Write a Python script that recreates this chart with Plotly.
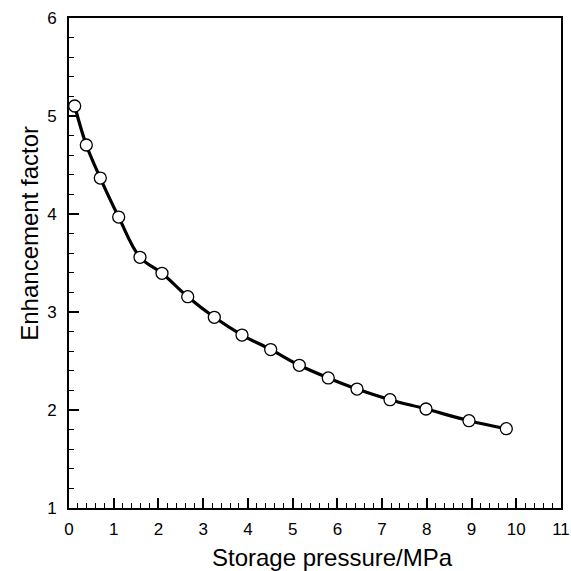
import plotly.graph_objects as go

pressure = [0.127, 0.387, 0.70, 1.111, 1.587, 2.079, 2.654, 3.249, 3.868, 4.509,
            5.149, 5.797, 6.439, 7.177, 7.982, 8.943, 9.777]
enhancement = [5.102, 4.704, 4.367, 3.969, 3.558, 3.395, 3.156, 2.946, 2.765, 2.617,
               2.456, 2.327, 2.214, 2.105, 2.010, 1.891, 1.809]

x_title = "Storage pressure/MPa"
y_title = "Enhancement factor"

fig = go.Figure()
fig.add_trace(go.Scatter(
    x=pressure, y=enhancement, mode="lines+markers",
    line=dict(color="black", width=3.2, shape="spline", smoothing=1),
    marker=dict(symbol="circle", size=12, color="white",
                line=dict(color="black", width=1.3)),
    showlegend=False, cliponaxis=False,
))

font = "Liberation Sans, Arial, sans-serif"
axis_common = dict(
    showgrid=False, zeroline=False, showline=True, linecolor="black", linewidth=2,
    mirror=True, ticks="inside", ticklen=10, tickwidth=1.5, tickcolor="black",
    tickfont=dict(family=font, size=17, color="black"), automargin=False,
)
fig.update_xaxes(range=[0, 11], dtick=1, tick0=0,
                 minor=dict(ticks="inside", ticklen=5, dtick=0.2, tick0=0,
                            tickcolor="black", tickwidth=1.2),
                 ticklabelstandoff=5, **axis_common)
fig.update_yaxes(range=[1, 6], dtick=1, tick0=0,
                 minor=dict(ticks="inside", ticklen=5, dtick=0.2, tick0=0,
                            tickcolor="black", tickwidth=1.2),
                 ticklabelstandoff=7, **axis_common)

fig.add_annotation(text=x_title, xref="paper", yref="paper", x=0.535, y=0,
                   xanchor="center", yanchor="top", yshift=-34, showarrow=False,
                   font=dict(family=font, size=24, color="black"))
fig.add_annotation(text=y_title, xref="paper", yref="paper", x=-0.081, y=0.560,
                   xanchor="center", yanchor="middle", textangle=-90, showarrow=False,
                   font=dict(family=font, size=24, color="black"))

fig.update_layout(
    width=571, height=571, margin=dict(l=69, r=10, t=18, b=63),
    plot_bgcolor="white", paper_bgcolor="white",
)
fig.write_html("out.html")
